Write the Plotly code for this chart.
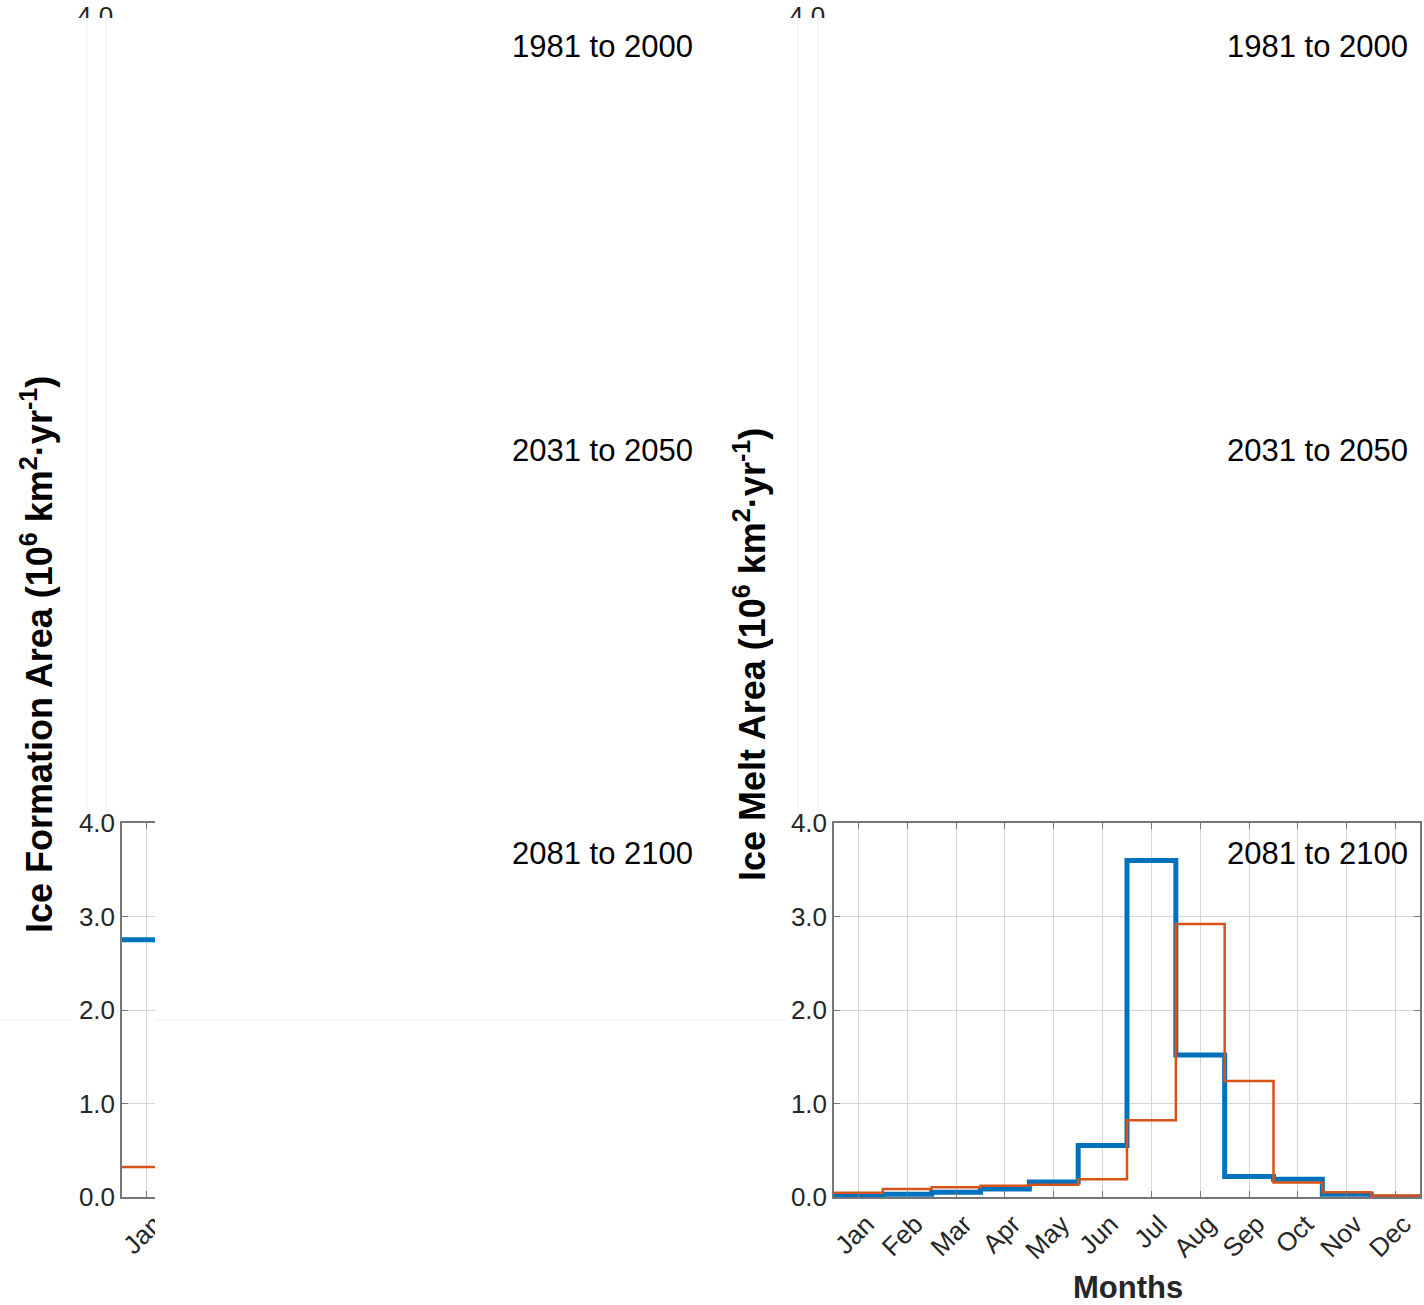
import numpy as np
import plotly.graph_objects as go

# ---------------- data ----------------
months = ["Jan", "Feb", "Mar", "Apr", "May", "Jun", "Jul", "Aug", "Sep", "Oct", "Nov", "Dec"]
month_pos = list(range(1, 13))
y_ticks = [0.0, 1.0, 2.0, 3.0, 4.0]
period_labels = ["1981 to 2000", "2031 to 2050", "2081 to 2100"]

# Ice formation, 2081-2100 (only January is visible in the reference)
formation_2081_blue = [2.75]
formation_2081_orange = [0.32]

# Ice melt, 2081-2100
melt_2081_blue = [0.01, 0.03, 0.05, 0.085, 0.16, 0.55, 3.60, 1.52, 0.22, 0.19, 0.03, 0.0]
melt_2081_orange = [0.045, 0.085, 0.105, 0.12, 0.13, 0.19, 0.82, 2.92, 1.24, 0.155, 0.05, 0.015]

# ---------------- style ----------------
BLUE = "#0072BD"
ORANGE = "#D95319"
FONT = "Liberation Sans, Arial, Helvetica, sans-serif"
AXCOL = "#767676"
GRIDCOL = "#d6d6d6"
TXT = "#262626"
TICKSIZE = 26

W, H = 1424, 1305


def fx(p):
    return p / W


def fy(p):
    return 1 - p / H


col_px = [(122, 708), (834, 1420)]
row_px = [(17, 391), (420, 794), (823, 1197)]


def stairs(vals):
    x = np.arange(len(vals) + 1) + 0.5
    y = list(vals) + [vals[-1]]
    return x, y


fig = go.Figure()
layout = {}
# only the bottom row of panels is visible; the upper rows are blank in the reference
ytop, ybot = row_px[2]
for c, (xl, xr) in enumerate(col_px):
    i = c + 1
    sfx = "" if i == 1 else str(i)
    if c == 0:
        xt_vals, xt_text = month_pos[:1], months[:1]
    else:
        xt_vals, xt_text = month_pos, months
    layout["xaxis" + sfx] = dict(
        domain=[fx(xl), fx(xr)], range=[0.5, 12.5], anchor="y" + sfx,
        automargin=False,
        tickmode="array", tickvals=xt_vals, ticktext=xt_text, tickangle=-45,
        ticklabelstandoff=0, ticklabelshift=8,
        showgrid=True, gridcolor=GRIDCOL, gridwidth=1,
        showline=True, linecolor=AXCOL, linewidth=1.5, mirror="ticks",
        ticks="inside", ticklen=6, tickcolor=AXCOL, zeroline=False,
        tickfont=dict(family=FONT, size=TICKSIZE, color=TXT),
    )
    layout["yaxis" + sfx] = dict(
        domain=[fy(ybot), fy(ytop)], range=[0, 4], anchor="x" + sfx,
        automargin=False,
        tickmode="array", tickvals=y_ticks, tickformat=".1f",
        showgrid=True, gridcolor=GRIDCOL, gridwidth=1,
        showline=True, linecolor=AXCOL, linewidth=1.5, mirror="ticks",
        ticks="inside", ticklen=6, tickcolor=AXCOL, zeroline=False,
        tickfont=dict(family=FONT, size=TICKSIZE, color=TXT),
    )

# bottom-left: ice formation
xs, ys = stairs(formation_2081_blue)
fig.add_trace(go.Scatter(x=xs, y=ys, mode="lines", line=dict(color=BLUE, width=5, shape="hv"),
                         xaxis="x", yaxis="y", showlegend=False, cliponaxis=False))
xs, ys = stairs(formation_2081_orange)
fig.add_trace(go.Scatter(x=xs, y=ys, mode="lines", line=dict(color=ORANGE, width=2.5, shape="hv"),
                         xaxis="x", yaxis="y", showlegend=False, cliponaxis=False))

# bottom-right: ice melt
xs, ys = stairs(melt_2081_blue)
fig.add_trace(go.Scatter(x=xs, y=ys, mode="lines", line=dict(color=BLUE, width=5, shape="hv"),
                         xaxis="x2", yaxis="y2", showlegend=False, cliponaxis=False))
xs, ys = stairs(melt_2081_orange)
fig.add_trace(go.Scatter(x=xs, y=ys, mode="lines", line=dict(color=ORANGE, width=2.5, shape="hv"),
                         xaxis="x2", yaxis="y2", showlegend=False, cliponaxis=False))

# ---------------- overlays (blank areas of the reference) ----------------
shapes = [
    dict(type="rect", xref="paper", yref="paper", x0=fx(155), x1=fx(787), y0=0, y1=fy(812),
         fillcolor="white", line=dict(width=0), layer="above"),
]
for xv in (87, 106, 798, 818):
    shapes.append(dict(type="line", xref="paper", yref="paper", x0=fx(xv), x1=fx(xv),
                       y0=fy(815), y1=fy(17), line=dict(color="#efefef", width=1), layer="above"))
for (a, b) in ((0, 72), (155, 787)):
    shapes.append(dict(type="line", xref="paper", yref="paper", x0=fx(a), x1=fx(b),
                       y0=fy(1020), y1=fy(1020), line=dict(color="#efefef", width=1), layer="above"))

# ---------------- annotations ----------------
annotations = []
for r, lab in enumerate(period_labels):
    ymid = row_px[r][0] + 30
    for c, xr in enumerate((695, 1410)):
        annotations.append(dict(text=lab, x=fx(xr), y=fy(ymid), xref="paper", yref="paper",
                                xanchor="right", yanchor="middle", showarrow=False,
                                font=dict(family=FONT, size=31, color="black")))

# the top "4.0" tick labels of the upper panels, cut off in the reference
for xr in (114, 826):
    annotations.append(dict(text="4.0", x=fx(xr), y=1, xref="paper", yref="paper",
                            xanchor="right", yanchor="top", valign="top", height=17,
                            borderpad=0, showarrow=False,
                            font=dict(family=FONT, size=TICKSIZE, color=TXT)))

annotations.append(dict(text="<b>Ice Formation Area (10<sup>6</sup> km<sup>2</sup>·yr<sup>-1</sup>)</b>",
                        x=fx(37), y=fy(655), xref="paper", yref="paper", textangle=-90,
                        xanchor="center", yanchor="middle", showarrow=False,
                        font=dict(family=FONT, size=36, color="black")))
annotations.append(dict(text="<b>Ice Melt Area (10<sup>6</sup> km<sup>2</sup>·yr<sup>-1</sup>)</b>",
                        x=fx(750), y=fy(655), xref="paper", yref="paper", textangle=-90,
                        xanchor="center", yanchor="middle", showarrow=False,
                        font=dict(family=FONT, size=36, color="black")))
annotations.append(dict(text="<b>Months</b>", x=fx(1128), y=fy(1287), xref="paper", yref="paper",
                        xanchor="center", yanchor="middle", showarrow=False,
                        font=dict(family=FONT, size=31, color=TXT)))

fig.update_layout(
    width=W, height=H, margin=dict(l=0, r=0, t=0, b=0, autoexpand=False),
    paper_bgcolor="white", plot_bgcolor="white",
    shapes=shapes, annotations=annotations, showlegend=False,
    **layout,
)

fig.write_html(
    "out.html",
    post_script="document.body.style.margin='0';document.body.style.overflow='hidden';",
)
